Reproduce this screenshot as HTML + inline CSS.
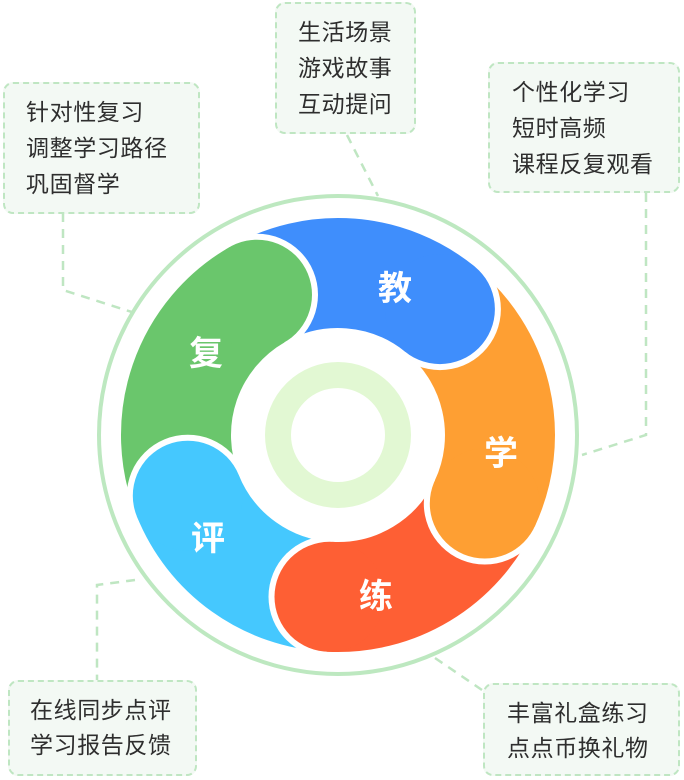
<!DOCTYPE html>
<html><head><meta charset="utf-8"><style>
html,body{margin:0;padding:0;background:#fff;}
body{width:684px;height:780px;overflow:hidden;position:relative;font-family:"Liberation Sans","Noto Sans CJK SC",sans-serif;}
.box{position:absolute;background:#f3f9f4;border:2.5px dashed #bfe6c2;border-radius:10px;box-sizing:border-box;color:#2e2e2e;font-size:23px;letter-spacing:0.6px;line-height:36px;white-space:nowrap;}
svg{position:absolute;left:0;top:0;}
</style></head><body>
<svg width="684" height="780" viewBox="0 0 684 780">
<defs>
<mask id="m1" maskUnits="userSpaceOnUse"><rect width="684" height="780" fill="#fff"/><circle cx="257.0" cy="294.7" r="61" fill="#000"/></mask>
<mask id="m2" maskUnits="userSpaceOnUse"><rect width="684" height="780" fill="#fff"/><circle cx="439.9" cy="309.1" r="61" fill="#000"/></mask>
<mask id="m3" maskUnits="userSpaceOnUse"><rect width="684" height="780" fill="#fff"/><circle cx="484.8" cy="503.5" r="61" fill="#000"/></mask>
<mask id="m4" maskUnits="userSpaceOnUse"><rect width="684" height="780" fill="#fff"/><circle cx="329.5" cy="596.8" r="61" fill="#000"/></mask>
<mask id="m5" maskUnits="userSpaceOnUse"><rect width="684" height="780" fill="#fff"/><circle cx="187.8" cy="495.7" r="61" fill="#000"/></mask>
</defs>
<g fill="none" stroke="#bfe6c2" stroke-width="2.5" stroke-dasharray="9,7">
<path d="M347 135 L378 196"/>
<path d="M63 213 L63 290 L135 313"/>
<path d="M646 193 L646 435 L582 455"/>
<path d="M135 580 L97 585 L97 680"/>
<path d="M435 658 L482 690"/>
</g>
<circle cx="338" cy="435" r="239" fill="#fff" stroke="#bde8c0" stroke-width="4"/>
<g mask="url(#m1)" fill="#3f8efc"><path d="M257.0 294.7 A162 162 0 0 1 439.9 309.1" fill="none" stroke="#3f8efc" stroke-width="110"/><circle cx="439.9" cy="309.1" r="55"/></g>
<g mask="url(#m2)" fill="#fe9f33"><path d="M439.9 309.1 A162 162 0 0 1 484.8 503.5" fill="none" stroke="#fe9f33" stroke-width="110"/><circle cx="484.8" cy="503.5" r="55"/></g>
<g mask="url(#m3)" fill="#fe5f34"><path d="M484.8 503.5 A162 162 0 0 1 329.5 596.8" fill="none" stroke="#fe5f34" stroke-width="110"/><circle cx="329.5" cy="596.8" r="55"/></g>
<g mask="url(#m4)" fill="#45c8fe"><path d="M329.5 596.8 A162 162 0 0 1 187.8 495.7" fill="none" stroke="#45c8fe" stroke-width="110"/><circle cx="187.8" cy="495.7" r="55"/></g>
<g mask="url(#m5)" fill="#6ac66c"><path d="M187.8 495.7 A162 162 0 0 1 257.0 294.7" fill="none" stroke="#6ac66c" stroke-width="110"/><circle cx="257.0" cy="294.7" r="55"/></g>
<circle cx="338" cy="435" r="60" fill="none" stroke="#e2f8d3" stroke-width="26"/>
<g fill="#fff" font-size="34" font-weight="bold" text-anchor="middle" font-family="Liberation Sans, Noto Sans CJK SC, sans-serif">
<text x="395" y="300">教</text>
<text x="501" y="465">学</text>
<text x="376" y="608">练</text>
<text x="208" y="550">评</text>
<text x="206" y="365">复</text>
</g>
</svg>
<div class="box" style="left:275px;top:2px;width:141px;height:132px;padding:10px 0 0 21px;">生活场景<br>游戏故事<br>互动提问</div>
<div class="box" style="left:3px;top:82px;width:197px;height:132px;padding:10px 0 0 21px;">针对性复习<br>调整学习路径<br>巩固督学</div>
<div class="box" style="left:488px;top:62px;width:192px;height:131px;padding:10px 0 0 22px;">个性化学习<br>短时高频<br>课程反复观看</div>
<div class="box" style="left:8px;top:680px;width:189px;height:96px;padding:11px 0 0 20px;line-height:35px;">在线同步点评<br>学习报告反馈</div>
<div class="box" style="left:483px;top:683px;width:197px;height:93px;padding:11px 0 0 22px;line-height:35px;">丰富礼盒练习<br>点点币换礼物</div>
</body></html>
